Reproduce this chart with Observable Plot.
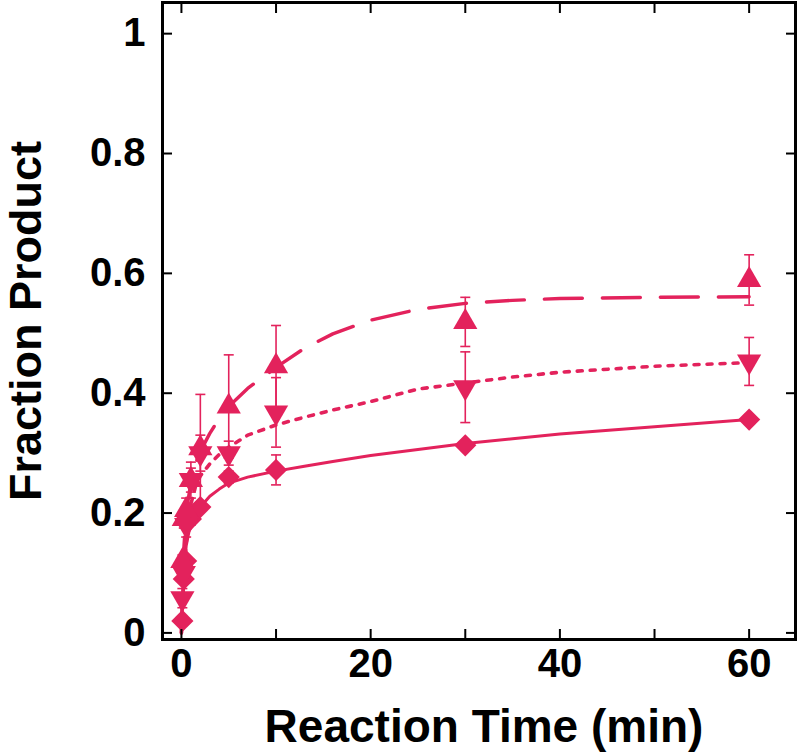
<!DOCTYPE html>
<html><head><meta charset="utf-8">
<script src="https://cdn.jsdelivr.net/npm/d3@7"></script>
<script src="https://cdn.jsdelivr.net/npm/@observablehq/plot@0.6"></script>
<style>body{margin:0;background:#fff}</style>
</head><body><div id="chart"></div>
<script>
// ---- data ----
const times = [0.1, 0.25, 0.5, 1, 2, 5, 10, 30, 60];
const diamondValues = [0.02, 0.09, 0.12, 0.19, 0.21, 0.26, 0.272, 0.313, 0.356];
const diamondErrors = [0, 0, 0, 0, 0, 0.01, 0.025, 0, 0];
const upValues = [0.12, 0.19, 0.205, 0.255, 0.308, 0.378, 0.445, 0.519, 0.589];
const upErrors = [0.01, 0.015, 0.02, 0.03, 0.09, 0.086, 0.068, 0.041, 0.042];
const downValues = [0.058, 0.1, 0.18, 0.255, 0.30, 0.30, 0.368, 0.41, 0.453];
const downErrors = [0.016, 0.01, 0.02, 0.02, 0.03, 0.02, 0.058, 0.059, 0.04];

const curveTimes = [0, 0.1, 0.25, 0.5, 1, 1.5, 2, 3, 4, 5, 7, 10, 13, 16, 20, 25, 30, 35, 40, 50, 60];
const solidCurve = [0, 0.05, 0.1, 0.145, 0.185, 0.2, 0.21, 0.228, 0.24, 0.25, 0.26, 0.27, 0.278, 0.286, 0.296, 0.306, 0.316, 0.324, 0.332, 0.344, 0.356];
const dashedCurve = [0, 0.07, 0.14, 0.2, 0.252, 0.283, 0.303, 0.333, 0.358, 0.378, 0.408, 0.443, 0.475, 0.499, 0.522, 0.54, 0.55, 0.555, 0.558, 0.56, 0.561];
const dottedCurve = [0, 0.04, 0.09, 0.15, 0.215, 0.245, 0.262, 0.282, 0.298, 0.31, 0.33, 0.347, 0.36, 0.372, 0.386, 0.407, 0.417, 0.427, 0.435, 0.445, 0.451];

const xTicks = [0, 10, 20, 30, 40, 50, 60];
const xLabelTicks = [0, 20, 40, 60];
const xTickLabels = ["0", "20", "40", "60"];
const yTicks = [0, 0.2, 0.4, 0.6, 0.8, 1];
const yTickLabels = ["0", "0.2", "0.4", "0.6", "0.8", "1"];
const xTitle = "Reaction Time (min)";
const yTitle = "Fraction Product";

// ---- build tables ----
const color = "#e3225c";
const pts = (vals, errs) => times.map((t, i) => ({t, v: vals[i], e: errs[i]}));
const A = pts(diamondValues, diamondErrors);
const B = pts(upValues, upErrors);
const C = pts(downValues, downErrors);
const curve = vals => curveTimes.map((t, i) => ({t, v: vals[i]}));
const errRows = [...A, ...B, ...C].filter(d => d.e > 0);
const caps = errRows.flatMap(d => [{t: d.t, v: d.v + d.e}, {t: d.t, v: d.v - d.e}]);

const capSymbol = {draw(ctx) { ctx.moveTo(-5, 0); ctx.lineTo(5, 0); }};
const downTriangle = {draw(ctx, size) {
  const y = Math.sqrt(size / (Math.sqrt(3) * 3));
  ctx.moveTo(0, 2 * y); ctx.lineTo(-Math.sqrt(3) * y, -y); ctx.lineTo(Math.sqrt(3) * y, -y); ctx.closePath();
}};

const font = "'Liberation Sans', Arial, Helvetica, sans-serif";
const chart = Plot.plot({
  width: 800, height: 753,
  marginLeft: 162, marginRight: 5, marginTop: 2, marginBottom: 114,
  style: {fontFamily: font, fontWeight: "bold", fontSize: "40px", color: "black", background: "white"},
  x: {domain: [-2, 64.9]},
  y: {domain: [-0.011, 1.052]},
  marks: [
    Plot.line(curve(solidCurve), {x: "t", y: "v", stroke: color, strokeWidth: 3}),
    Plot.line(curve(dashedCurve), {x: "t", y: "v", stroke: color, strokeWidth: 3.4, strokeDasharray: "38,20"}),
    Plot.line(curve(dottedCurve), {x: "t", y: "v", stroke: color, strokeWidth: 3.6, strokeDasharray: "5,8"}),
    Plot.ruleX(errRows, {x: "t", y1: d => d.v - d.e, y2: d => d.v + d.e, stroke: color, strokeWidth: 1.6}),
    Plot.dot(caps, {x: "t", y: "v", symbol: capSymbol, stroke: color, strokeWidth: 1.6, fill: "none", r: 5}),
    Plot.dot(A, {x: "t", y: "v", symbol: "diamond2", r: 10, fill: color}),
    Plot.dot(B, {x: "t", y: "v", symbol: "triangle", r: 9, fill: color}),
    Plot.dot(C, {x: "t", y: "v", symbol: downTriangle, r: 9, fill: color}),
    Plot.frame({stroke: "black", strokeWidth: 3}),
    Plot.axisX({anchor: "bottom", ticks: xTicks, tickSize: -10, fill: "none", strokeWidth: 2, label: null}),
    Plot.axisX({anchor: "top", ticks: xTicks, tickSize: -10, fill: "none", strokeWidth: 2, label: null}),
    Plot.axisY({anchor: "left", ticks: yTicks, tickSize: -10, fill: "none", strokeWidth: 2, label: null}),
    Plot.axisY({anchor: "right", ticks: yTicks, tickSize: -10, fill: "none", strokeWidth: 2, label: null}),
    Plot.axisX({anchor: "bottom", ticks: xLabelTicks, tickSize: 0, tickPadding: 9, stroke: "none",
      tickFormat: d => xTickLabels[xLabelTicks.indexOf(d)], label: null, fontSize: 40, fontWeight: "bold"}),
    Plot.axisY({anchor: "left", ticks: yTicks, tickSize: 0, tickPadding: 17, stroke: "none",
      tickFormat: d => yTickLabels[yTicks.indexOf(d)], label: null, fontSize: 40, fontWeight: "bold"}),
    Plot.text([xTitle], {text: d => d, frameAnchor: "bottom", dy: 102, dx: 5, textAnchor: "middle", lineAnchor: "bottom", fontSize: 46, fontWeight: "bold", fill: "black"}),
    Plot.text([yTitle], {text: d => d, frameAnchor: "left", dx: -122, rotate: -90, textAnchor: "middle", lineAnchor: "bottom", fontSize: 45, fontWeight: "bold", fill: "black"})
  ]
});
document.getElementById("chart").appendChild(chart);
</script>
</body></html>
